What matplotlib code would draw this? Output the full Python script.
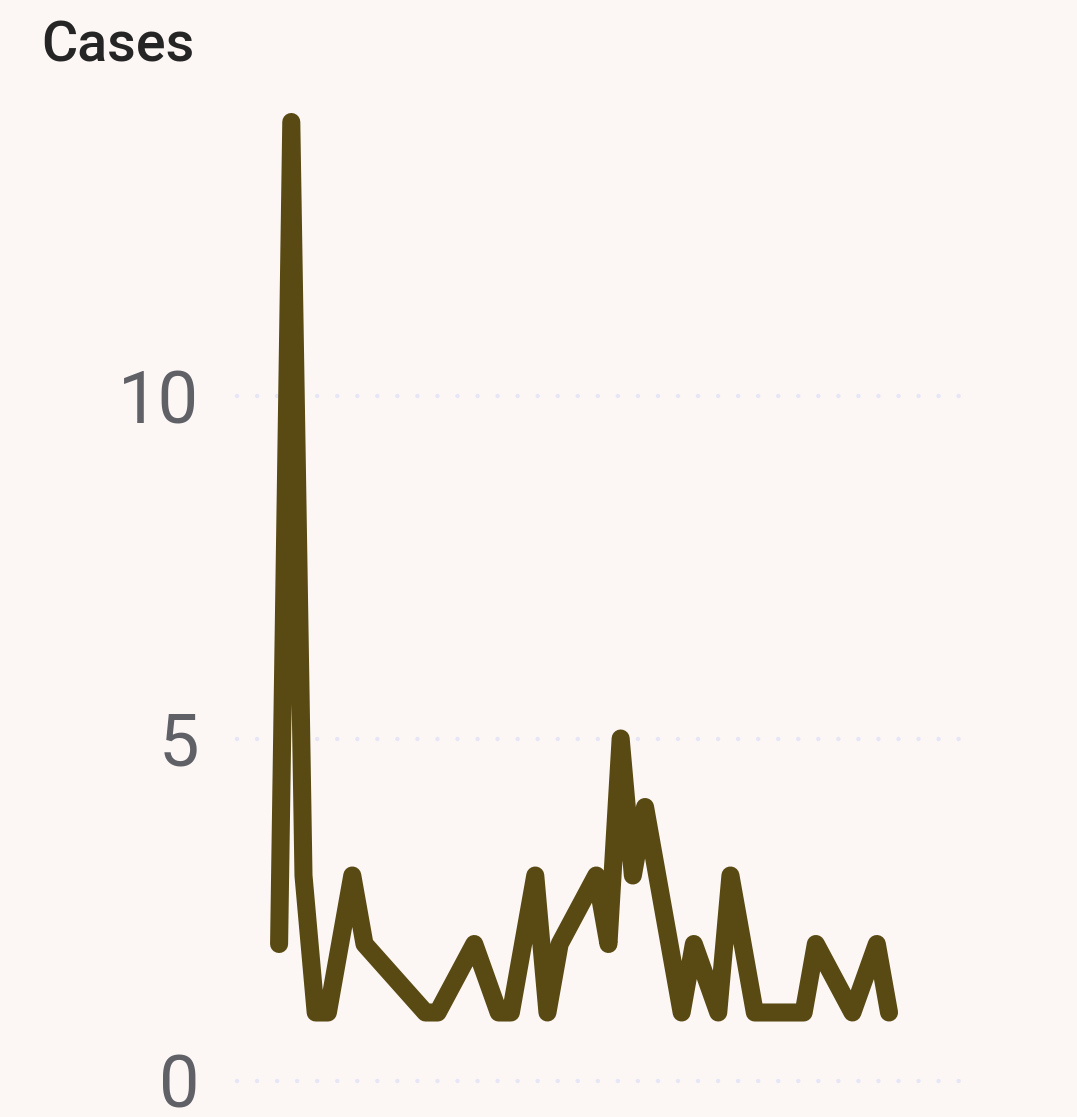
import matplotlib
matplotlib.use("Agg")
import matplotlib.pyplot as plt

# day offset from first report, and daily cases (days with no report are absent)
days = [0, 1, 2, 3, 4, 6, 7, 12, 13, 16, 18, 19, 21, 22, 23, 26, 27, 28, 29, 30,
        33, 34, 36, 37, 39, 43, 44, 47, 49, 50]
cases = [2, 14, 3, 1, 1, 3, 2, 1, 1, 2, 1, 1, 3, 1, 2, 3, 2, 5, 3, 4,
         1, 2, 1, 3, 1, 1, 2, 1, 2, 1]
yticks = [0, 5, 10]

BG = "#fcf7f5"
LINE = "#594a13"
GRID = "#e6e6f7"

fig = plt.figure(figsize=(10.77, 11.17), dpi=100, facecolor=BG)
ax = fig.add_axes([237 / 1077, 1 - 1081 / 1117, (961 - 237) / 1077, (1081 - 122) / 1117])
ax.set_facecolor(BG)

for y in yticks:
    ax.axhline(y, color=GRID, lw=3.2, linestyle=(0, (0.01, 4.5)),
               dash_capstyle="round", zorder=1, clip_on=False)

ax.plot(days, cases, color=LINE, lw=13, solid_capstyle="round",
        solid_joinstyle="round", clip_on=False, zorder=3)

ax.set_xlim(-3.45, 55.9)
ax.set_ylim(0, 14)
ax.set_yticks(yticks)
ax.set_yticklabels([str(t) for t in yticks], fontsize=52, color="#606067", family="Roboto")
ax.tick_params(axis="y", length=0, pad=27)
ax.set_xticks([])
for sp in ax.spines.values():
    sp.set_visible(False)

fig.text(41 / 1077, 1 - 62 / 1117, "Cases", fontsize=40, color="#252525",
         family="Roboto", fontweight="medium", ha="left", va="baseline")

fig.savefig("out.png", dpi=100, facecolor=BG)
